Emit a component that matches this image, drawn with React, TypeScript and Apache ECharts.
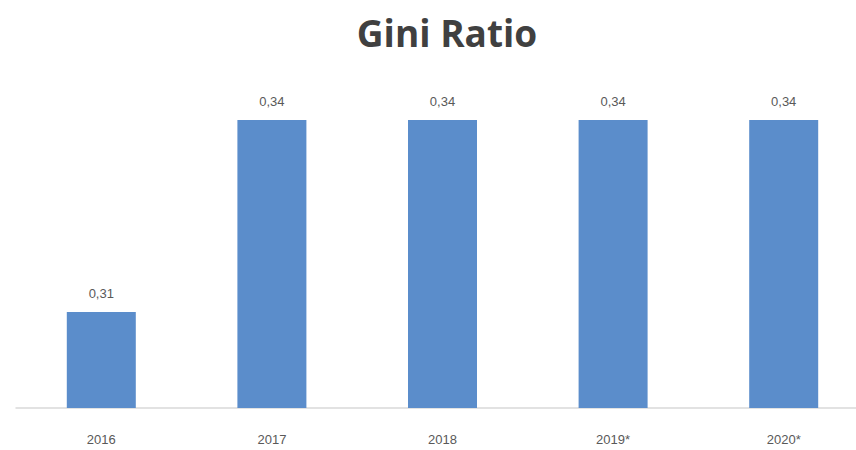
import React, { useEffect, useRef } from "react";
import * as echarts from "echarts";

const categories = ["2016", "2017", "2018", "2019*", "2020*"];
const giniValues = [0.31, 0.34, 0.34, 0.34, 0.34];
const titleText = "Gini Ratio";

export default function App() {
  const ref = useRef<HTMLDivElement>(null);
  useEffect(() => {
    if (!ref.current) return;
    const chart = echarts.init(ref.current, null, { renderer: "svg" });
    chart.setOption({
      animation: false,
      backgroundColor: "#ffffff",
      title: {
        text: titleText,
        left: 442,
        textAlign: "center",
        top: 9,
        textStyle: {
          fontFamily: "Open Sans",
          fontWeight: "bold",
          fontSize: 37,
          color: "#404040",
        },
      },
      grid: {
        left: 16,
        width: 853,
        top: 56,
        bottom: 42,
        outerBoundsMode: "none",
        containLabel: false,
      },
      xAxis: {
        type: "category",
        data: categories,
        axisLine: { lineStyle: { color: "#d9d9d9", width: 1.5 } },
        axisTick: { show: false },
        axisLabel: {
          color: "#595959",
          fontSize: 13,
          margin: 25,
          fontFamily: "Liberation Sans",
        },
      },
      yAxis: {
        type: "value",
        min: 0.295,
        max: 0.35,
        show: false,
        splitLine: { show: false },
      },
      series: [
        {
          type: "bar",
          data: giniValues,
          barWidth: 69,
          itemStyle: { color: "#5b8dcb" },
          label: {
            show: true,
            position: "top",
            distance: 12,
            color: "#595959",
            fontSize: 13,
            fontFamily: "Liberation Sans",
            formatter: (p: any) => p.value.toFixed(2).replace(".", ","),
          },
        },
      ],
    });
    return () => chart.dispose();
  }, []);
  return (
    <div
      ref={ref}
      style={{ position: "fixed", left: 0, top: 0, width: 856, height: 450 }}
    />
  );
}
